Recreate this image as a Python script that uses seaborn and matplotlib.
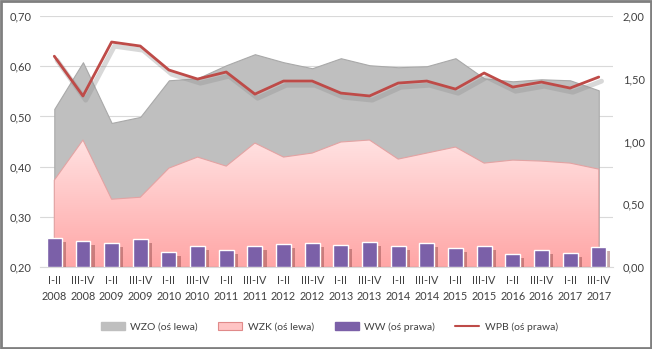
import numpy as np
import pandas as pd
import matplotlib
matplotlib.use("Agg")
import matplotlib.pyplot as plt
import matplotlib.patheffects as pe
from matplotlib.colors import LinearSegmentedColormap
from matplotlib.patches import Rectangle
from matplotlib.lines import Line2D
import seaborn as sns

periods = ["I-II", "III-IV"] * 10
years = [str(y) for y in range(2008, 2018) for _ in range(2)]
labels = [f"{p}\n{y}" for p, y in zip(periods, years)]

wzo = [0.515, 0.608, 0.487, 0.499, 0.572, 0.576, 0.602, 0.624, 0.608, 0.596,
       0.616, 0.602, 0.598, 0.600, 0.616, 0.576, 0.570, 0.574, 0.572, 0.552]
wzk = [0.373, 0.453, 0.335, 0.339, 0.397, 0.419, 0.401, 0.447, 0.419, 0.427,
       0.449, 0.453, 0.415, 0.427, 0.439, 0.407, 0.413, 0.411, 0.407, 0.395]
ww = [0.231, 0.207, 0.189, 0.221, 0.122, 0.165, 0.138, 0.170, 0.183, 0.189,
      0.175, 0.197, 0.170, 0.189, 0.149, 0.165, 0.104, 0.135, 0.112, 0.157]
wpb = [1.68, 1.363, 1.793, 1.761, 1.570, 1.498, 1.554, 1.378, 1.482, 1.482,
       1.386, 1.363, 1.466, 1.482, 1.418, 1.546, 1.434, 1.474, 1.426, 1.514]

left_ticks = [0.20, 0.30, 0.40, 0.50, 0.60, 0.70]
right_ticks = [0.00, 0.50, 1.00, 1.50, 2.00]

df = pd.DataFrame({"label": labels, "x": np.arange(len(labels)),
                   "wzo": wzo, "wzk": wzk, "ww": ww, "wpb": wpb})

sns.set_theme(style="white")
plt.rcParams["font.family"] = ["Lato", "DejaVu Sans"]

fig = plt.figure(figsize=(6.52, 3.49), dpi=100)
fig.patch.set_facecolor("white")
fig.patches.append(Rectangle((0.0015, 0.002), 0.997, 0.995, transform=fig.transFigure,
                             fill=False, edgecolor="#7f7f7f", linewidth=2.0))
ax = fig.add_axes([0.0613, 0.235, 0.879, 0.719])
ax2 = ax.twinx()
ax.set_zorder(1)
ax2.set_zorder(2)
ax2.patch.set_visible(False)

x = df["x"].values
text_col = "#404040"

# gridlines (left axis)
ax.set_ylim(0.2, 0.7)
ax.set_xlim(-0.5, len(x) - 0.5)
ax.set_yticks(left_ticks)
ax.yaxis.grid(True, color="#d9d9d9", linewidth=0.8)
ax.set_axisbelow(True)

# WZO area (grey)
ax.fill_between(x, 0.2, df["wzo"], color="#bfbfbf", edgecolor="#a9a9a9",
                linewidth=0.8, zorder=2)
# WZK area (pink gradient)
poly = ax.fill_between(x, 0.2, df["wzk"], facecolor="none", edgecolor="#e3a3a3",
                       linewidth=0.8, zorder=4)
cmap = LinearSegmentedColormap.from_list("pk", ["#ffa6a6", "#ffe3e3"])
grad = np.linspace(0, 1, 256).reshape(-1, 1)
img = ax.imshow(grad, cmap=cmap, origin="lower", aspect="auto",
                extent=[0, len(x) - 1, 0.2, 0.46], zorder=3)
img.set_clip_path(poly.get_paths()[0], transform=ax.transData)
ax.set_xlim(-0.5, len(x) - 0.5)
ax.set_ylim(0.2, 0.7)

# WW bars (right axis)
sns.barplot(data=df, x="x", y="ww", ax=ax2, color="#7b60a8", saturation=1,
            width=0.52, zorder=3)
for p in ax2.patches:
    p.set_path_effects([pe.SimplePatchShadow(offset=(3, -3), shadow_rgbFace="#8a4545",
                                             alpha=0.45), pe.Normal()])
# WPB line (right axis)
sns.lineplot(data=df, x="x", y="wpb", ax=ax2, color="#be4b48", linewidth=2.0,
             zorder=5, path_effects=[pe.SimpleLineShadow(offset=(2, -3), shadow_color="#909090",
                                                          alpha=0.35, linewidth=3.5), pe.Normal()])
ax2.set_ylim(0, 2.0)
ax2.set_yticks(right_ticks)
ax2.set_xlim(-0.5, len(x) - 0.5)
ax2.set_xlabel("")
ax2.set_ylabel("")
ax.set_ylabel("")

ax.set_xticks(x)
ax.set_xticklabels(labels, fontsize=7.8, color=text_col, linespacing=1.5)
ax2.set_xticks(x)
ax.set_yticklabels([f"{v:.2f}".replace(".", ",") for v in left_ticks], fontsize=8, color=text_col)
ax2.set_yticklabels([f"{v:.2f}".replace(".", ",") for v in right_ticks], fontsize=8, color=text_col)
ax.tick_params(axis="x", length=0, pad=6)
ax.tick_params(axis="y", length=0, pad=6)
ax2.tick_params(axis="y", length=0, pad=7)
for a in (ax, ax2):
    for s in a.spines.values():
        s.set_visible(False)
ax.spines["bottom"].set_visible(True)
ax.spines["bottom"].set_color("#d9d9d9")
ax.spines["bottom"].set_linewidth(0.8)

handles = [Rectangle((0, 0), 1, 1, facecolor="#bfbfbf", edgecolor="#bfbfbf"),
           Rectangle((0, 0), 1, 1, facecolor="#ffc4c4", edgecolor="#e08a8a", linewidth=0.8),
           Rectangle((0, 0), 1, 1, facecolor="#7b60a8", edgecolor="#7b60a8"),
           Line2D([0], [0], color="#be4b48", linewidth=1.5)]
names = ["WZO (oś lewa)", "WZK (oś lewa)", "WW (oś prawa)", "WPB (oś prawa)"]
fig.legend(handles, names, loc="center", bbox_to_anchor=(0.505, 0.063), ncol=4,
           frameon=False, fontsize=7.5, labelcolor=text_col, handlelength=2.3,
           handleheight=0.8, columnspacing=2.0, handletextpad=0.5)

fig.savefig("out.png", dpi=100)
